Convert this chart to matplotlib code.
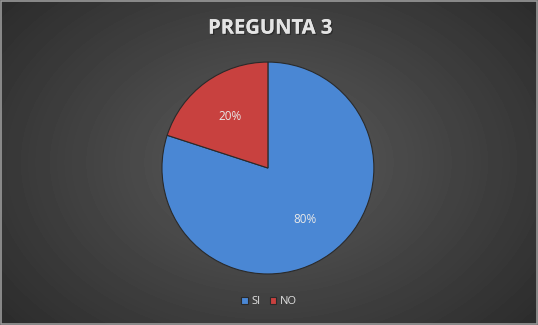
import numpy as np
import matplotlib.pyplot as plt
import matplotlib.patheffects as pe
from matplotlib.patches import Rectangle

categories = ["SI", "NO"]
values = [80, 20]
colors = ["#4a87d4", "#c8413f"]
title = "PREGUNTA 3"

fig = plt.figure(figsize=(5.38, 3.25), dpi=100)

# radial background gradient, dark edges, lighter middle
bg = fig.add_axes([0, 0, 1, 1])
yy, xx = np.mgrid[-1:1:325j, -1:1:538j]
r = np.sqrt((xx * 0.95) ** 2 + (yy * 0.8) ** 2)
grad = np.clip(1 - r / 1.25, 0, 1)
shade = 0.17 + 0.19 * grad
bg.imshow(shade, cmap="gray", vmin=0, vmax=1, aspect="auto",
          extent=[0, 1, 0, 1])
bg.add_patch(Rectangle((0.002, 0.003), 0.996, 0.994, fill=False,
                       edgecolor="#9a9a9a", lw=1.2, transform=bg.transAxes))
bg.set_xlim(0, 1)
bg.set_ylim(0, 1)
bg.axis("off")

fig.text(0.502, 0.912, title, ha="center", va="center", color="#e4e4e4",
         fontsize=14.5, fontweight="bold", family="Open Sans",
         path_effects=[pe.withSimplePatchShadow(offset=(1, -1),
                                                shadow_rgbFace="black",
                                                alpha=0.3), pe.Normal()])

ax = fig.add_axes([0.498 - 0.197, 0.483 - 0.326, 0.394, 0.652])
wedges, texts, autotexts = ax.pie(
    values, colors=colors, startangle=90, counterclock=False,
    autopct="%1.0f%%", pctdistance=0.6,
    wedgeprops=dict(edgecolor="#2a2a2a", linewidth=0.8),
    textprops=dict(color="#e8e8e8", fontsize=8.5, family="Open Sans"))
ax.set_xlim(-1, 1)
ax.set_ylim(-1, 1)
ax.set_aspect("equal")

leg = fig.legend(wedges, categories, loc="center", bbox_to_anchor=(0.5, 0.071),
                 ncol=2, frameon=False, handlelength=0.6, handleheight=0.6,
                 handletextpad=0.3, columnspacing=0.8,
                 prop=dict(size=8, family="Open Sans"))
for t in leg.get_texts():
    t.set_color("#e0e0e0")

fig.savefig("out.png", dpi=100)
